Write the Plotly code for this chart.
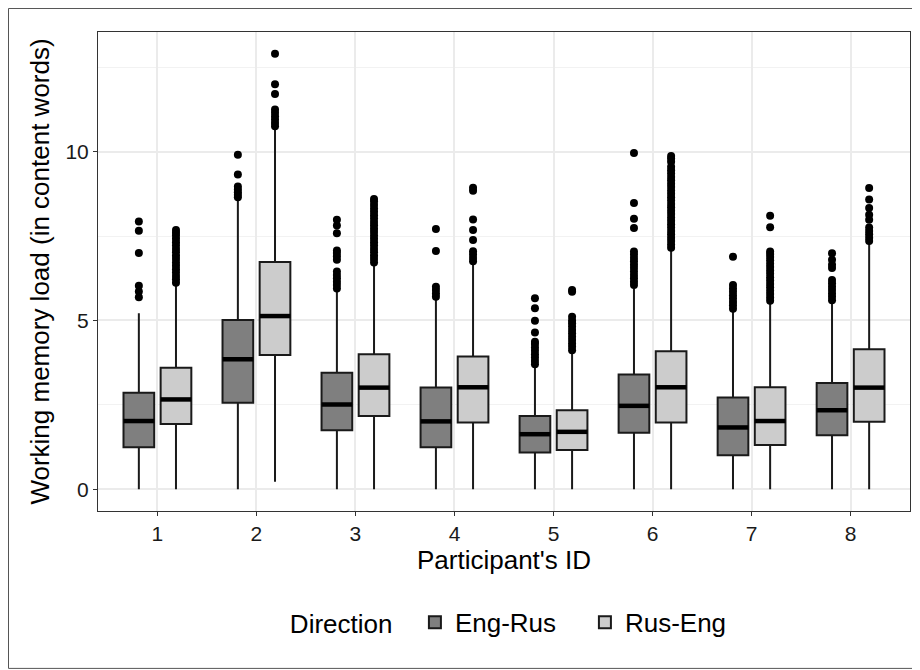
import plotly.graph_objects as go

participants = ["1", "2", "3", "4", "5", "6", "7", "8"]
directions = ["Eng-Rus", "Rus-Eng"]

eng_rus_q1 = [1.24, 2.56, 1.75, 1.24, 1.09, 1.67, 1.01, 1.60]
eng_rus_median = [2.02, 3.85, 2.51, 2.01, 1.63, 2.47, 1.83, 2.34]
eng_rus_q3 = [2.86, 5.01, 3.45, 3.01, 2.17, 3.40, 2.72, 3.15]
eng_rus_low = [0, 0, 0, 0, 0, 0, 0, 0]
eng_rus_high = [5.21, 8.55, 5.90, 5.61, 3.63, 5.95, 5.26, 5.53]

rus_eng_q1 = [1.93, 3.98, 2.17, 1.98, 1.16, 1.98, 1.31, 2.00]
rus_eng_median = [2.66, 5.13, 3.01, 3.02, 1.70, 3.02, 2.02, 3.01]
rus_eng_q3 = [3.60, 6.73, 4.00, 3.93, 2.34, 4.09, 3.02, 4.15]
rus_eng_low = [0, 0.22, 0, 0, 0, 0, 0, 0]
rus_eng_high = [6.03, 10.67, 6.65, 6.70, 4.03, 7.09, 5.51, 7.29]

eng_rus_outliers = [
    [5.69, 5.86, 6.03, 7.00, 7.66, 7.93],
    [8.65, 8.72, 8.80, 8.88, 8.97, 9.32, 9.91],
    [5.95, 6.05, 6.15, 6.25, 6.35, 6.45, 6.80, 6.90, 7.00, 7.07, 7.58, 7.81, 7.98],
    [5.70, 5.80, 5.90, 6.00, 7.06, 7.71],
    [3.70, 3.80, 3.90, 4.00, 4.10, 4.20, 4.30, 4.37, 4.64, 4.99, 5.36, 5.66],
    [6.05, 6.15, 6.25, 6.35, 6.45, 6.55, 6.65, 6.75, 6.85, 6.95, 7.04, 7.74, 8.01, 8.48, 9.96],
    [5.35, 5.45, 5.55, 5.65, 5.75, 5.85, 5.95, 6.05, 6.89],
    [5.60, 5.70, 5.80, 5.90, 6.00, 6.10, 6.20, 6.55, 6.65, 6.80, 6.99],
]

rus_eng_outliers = [
    [6.12, 6.22, 6.32, 6.42, 6.52, 6.62, 6.72, 6.82, 6.92, 7.02, 7.12, 7.22, 7.32, 7.42, 7.52, 7.60, 7.68],
    [10.75, 10.85, 10.95, 11.05, 11.15, 11.25, 11.71, 12.00, 12.90],
    [6.72, 6.82, 6.92, 7.02, 7.12, 7.22, 7.32, 7.42, 7.52, 7.62, 7.72, 7.82, 7.92, 8.02, 8.12, 8.22, 8.32, 8.42, 8.52, 8.60],
    [6.75, 6.85, 6.95, 7.05, 7.38, 7.68, 7.99, 8.84, 8.93],
    [4.12, 4.22, 4.32, 4.42, 4.52, 4.62, 4.72, 4.82, 4.92, 5.00, 5.11, 5.85, 5.90],
    [7.15, 7.25, 7.35, 7.45, 7.55, 7.65, 7.75, 7.85, 7.95, 8.05, 8.15, 8.25, 8.35, 8.45, 8.55,
     8.65, 8.75, 8.85, 8.95, 9.05, 9.15, 9.25, 9.35, 9.45, 9.55, 9.70, 9.80, 9.87],
    [5.58, 5.68, 5.78, 5.88, 5.98, 6.08, 6.18, 6.28, 6.38, 6.48, 6.58, 6.68, 6.78, 6.88, 6.97, 7.04, 7.76, 8.10],
    [7.35, 7.45, 7.55, 7.65, 7.75, 7.98, 8.13, 8.33, 8.58, 8.92],
]

fills = {"Eng-Rus": "#7f7f7f", "Rus-Eng": "#cccccc"}
dodge = 0.1875
box_w = 0.31
edge = "#1a1a1a"
font_family = "Liberation Sans, Arial, sans-serif"

series = {
    "Eng-Rus": (eng_rus_q1, eng_rus_median, eng_rus_q3, eng_rus_low, eng_rus_high, eng_rus_outliers, -dodge),
    "Rus-Eng": (rus_eng_q1, rus_eng_median, rus_eng_q3, rus_eng_low, rus_eng_high, rus_eng_outliers, dodge),
}

fig = go.Figure()
for name in directions:
    q1, med, q3, lo, hi, outs, off = series[name]
    pos = [i + 1 + off for i in range(len(participants))]
    fig.add_trace(go.Box(
        name=name, x=pos, q1=q1, median=med, q3=q3,
        lowerfence=lo, upperfence=hi, width=box_w,
        fillcolor=fills[name], line=dict(color=edge, width=2),
        boxpoints=False, whiskerwidth=0, legendgroup=name, showlegend=True,
        hoverinfo="skip",
    ))
    # thicker median bars (ggplot fatten)
    mx, my = [], []
    for p, m in zip(pos, med):
        mx += [p - box_w / 2, p + box_w / 2, None]
        my += [m, m, None]
    fig.add_trace(go.Scatter(x=mx, y=my, mode="lines", line=dict(color="black", width=4.5),
                             showlegend=False, legendgroup=name, hoverinfo="skip"))
    ox, oy = [], []
    for p, vals in zip(pos, outs):
        ox += [p] * len(vals)
        oy += vals
    fig.add_trace(go.Scatter(x=ox, y=oy, mode="markers",
                             marker=dict(color="black", size=8),
                             showlegend=False, legendgroup=name, hoverinfo="skip"))

W, H = 912, 662
L, R, T, B = 90, 10, 24, 159.3
pw, ph = W - L - R, H - T - B

fig.update_layout(
    width=W, height=H,
    margin=dict(l=L, r=R, t=T, b=B, autoexpand=False),
    paper_bgcolor="white", plot_bgcolor="white",
    font=dict(family=font_family, color="black"),
    showlegend=True,
    legend=dict(orientation="h", x=0.522, xanchor="center", y=-0.2325, yanchor="middle",
                font=dict(size=26, color="black"),
                title=dict(text="Direction  ", side="left", font=dict(size=26, color="black")),
                itemwidth=30, tracegroupgap=0, entrywidth=125),
    xaxis=dict(range=[0.4, 8.6], tickmode="array", tickvals=list(range(1, len(participants) + 1)),
               ticktext=participants, showgrid=True, gridcolor="#ebebeb", gridwidth=1.5,
               zeroline=False, showline=True, linecolor="#333333", linewidth=1, mirror=True,
               ticks="outside", ticklen=4, tickcolor="#333333",
               tickfont=dict(size=21, color="#1a1a1a"),
               title=dict(text="Participant's ID", font=dict(size=26, color="black"), standoff=5)),
    yaxis=dict(range=[-0.645, 13.545], tickmode="linear", tick0=0, dtick=5,
               showgrid=True, gridcolor="#ebebeb", gridwidth=1.5,
               minor=dict(dtick=2.5, showgrid=True, gridcolor="#f2f2f2", gridwidth=1),
               zeroline=False, showline=True, linecolor="#333333", linewidth=1, mirror=True,
               ticks="outside", ticklen=4, tickcolor="#333333",
               tickfont=dict(size=21, color="#1a1a1a"),
               title=dict(text="Working memory load (in content words)", font=dict(size=26, color="black"), standoff=8)),
    shapes=[dict(type="rect", xref="paper", yref="paper",
                 x0=(0.5 - L) / pw, x1=(W - 1 - L) / pw,
                 y0=(ph + T - 660) / ph,
                 y1=(ph + T - 0.5) / ph,
                 line=dict(color="#555555", width=1), fillcolor="rgba(0,0,0,0)", layer="below")],
)

fig.write_html("out.html")
